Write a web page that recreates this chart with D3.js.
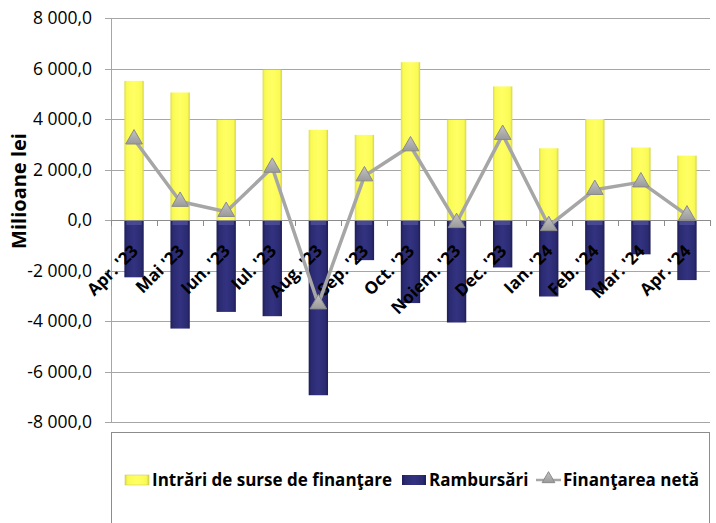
<!DOCTYPE html>
<html>
<head>
<meta charset="utf-8">
<script src="https://cdn.jsdelivr.net/npm/d3@7"></script>
<style>
	body { margin: 0; background: #ffffff; }
	svg text { font-family: "Open Sans", Lato, sans-serif; fill: #000; }
</style>
</head>
<body>
<svg id="vis" width="716" height="523"></svg>
<script>
// Values (milioane lei)
const months = ["Apr. '23", "Mai '23", "Iun. '23", "Iul. '23", "Aug. '23", "Sep. '23", "Oct. '23",
	"Noiem. '23", "Dec. '23", "Ian. '24", "Feb. '24", "Mar. '24", "Apr. '24"];
const intrari = [5510, 5050, 3970, 5950, 3570, 3370, 6250, 3970, 5290, 2840, 4000, 2870, 2550];
const rambursari = [-2270, -4300, -3640, -3810, -6940, -1590, -3290, -4060, -1880, -3030, -2780, -1360, -2380];
const netFinance = [3200, 730, 330, 2080, -3330, 1740, 2930, -110, 3380, -230, 1200, 1500, 190];
const yTicks = [-8000, -6000, -4000, -2000, 0, 2000, 4000, 6000, 8000];
const legendLabels = ["Intrări de surse de finanţare", "Rambursări", "Finanţarea netă"];

let drawChart = function() {
	const svg = d3.select("svg#vis");

	const plot = { left: 111, right: 710, top: 18, bottom: 422 };

	const x = d3.scaleBand()
		.domain(months)
		.range([plot.left, plot.right])
		.paddingInner(0.58)
		.paddingOuter(0.29);

	const y = d3.scaleLinear()
		.domain([-8000, 8000])
		.range([plot.bottom, plot.top]);

	// gradients for the bar / marker look
	const defs = svg.append("defs");
	let grad = function(id, stops) {
		const g = defs.append("linearGradient").attr("id", id)
			.attr("x1", 0).attr("x2", 1).attr("y1", 0).attr("y2", 0);
		stops.forEach(s => g.append("stop").attr("offset", s[0]).attr("stop-color", s[1]));
	};
	grad("gYellow", [[0, "#dcdc4a"], [0.12, "#fafa55"], [0.5, "#ffff63"], [0.88, "#fafa55"], [1, "#d4d448"]]);
	grad("gBlue", [[0, "#1e1e58"], [0.15, "#2b2b72"], [0.5, "#323280"], [0.85, "#2b2b72"], [1, "#1e1e58"]]);
	const gTri = defs.append("linearGradient").attr("id", "gTri")
		.attr("x1", 0).attr("x2", 0).attr("y1", 0).attr("y2", 1);
	gTri.append("stop").attr("offset", 0).attr("stop-color", "#c4c4c4");
	gTri.append("stop").attr("offset", 1).attr("stop-color", "#9a9a9a");

	// gridlines + left ticks
	svg.append("g")
		.selectAll("line.grid")
		.data(yTicks)
		.enter()
		.append("line")
		.attr("class", "grid")
		.attr("x1", plot.left - 6)
		.attr("x2", plot.right)
		.attr("y1", d => Math.round(y(d)) + 0.5)
		.attr("y2", d => Math.round(y(d)) + 0.5)
		.attr("stroke", "#a6a6a6")
		.attr("stroke-width", 1);

	// left axis line
	svg.append("line")
		.attr("x1", plot.left + 0.5).attr("x2", plot.left + 0.5)
		.attr("y1", plot.top).attr("y2", plot.bottom)
		.attr("stroke", "#a6a6a6");

	// y tick labels
	const fmt = d => d3.format(",.1f")(d).replace(/,/g, " ").replace(".", ",").replace("−", "-");
	svg.append("g")
		.selectAll("text")
		.data(yTicks)
		.enter()
		.append("text")
		.attr("x", 92)
		.attr("y", d => y(d) + 6)
		.attr("text-anchor", "end")
		.style("font-size", "17.5px")
		.text(fmt);

	// y axis title
	svg.append("text")
		.attr("transform", translate(26, 191) + " rotate(-90)")
		.attr("text-anchor", "middle")
		.style("font-size", "20px")
		.style("font-weight", "bold")
		.text("Milioane lei");

	// bars
	const bw = x.bandwidth();
	svg.append("g")
		.selectAll("rect.in")
		.data(intrari)
		.enter()
		.append("rect")
		.attr("class", "in")
		.attr("x", (d, i) => x(months[i]))
		.attr("y", d => y(d))
		.attr("width", bw)
		.attr("height", d => y(0) - y(d))
		.attr("fill", "url(#gYellow)");

	svg.append("g")
		.selectAll("rect.out")
		.data(rambursari)
		.enter()
		.append("rect")
		.attr("class", "out")
		.attr("x", (d, i) => x(months[i]))
		.attr("y", y(0))
		.attr("width", bw)
		.attr("height", d => y(d) - y(0))
		.attr("fill", "url(#gBlue)");

	// top highlight on blue bars
	svg.append("g")
		.selectAll("rect.hl")
		.data(rambursari)
		.enter()
		.append("rect")
		.attr("x", (d, i) => x(months[i]) + 2)
		.attr("y", y(0) + 1)
		.attr("width", bw - 4)
		.attr("height", 4)
		.attr("fill", "#5a5aa0")
		.attr("opacity", 0.6);

	// zero line and category ticks
	svg.append("line")
		.attr("x1", plot.left).attr("x2", plot.right)
		.attr("y1", Math.round(y(0)) + 0.5).attr("y2", Math.round(y(0)) + 0.5)
		.attr("stroke", "#8c8c8c");

	svg.append("g")
		.selectAll("line")
		.data(d3.range(months.length + 1))
		.enter()
		.append("line")
		.attr("x1", i => Math.round(plot.left + i * (plot.right - plot.left) / months.length) + 0.5)
		.attr("x2", i => Math.round(plot.left + i * (plot.right - plot.left) / months.length) + 0.5)
		.attr("y1", y(0))
		.attr("y2", y(0) + 6)
		.attr("stroke", "#8c8c8c");

	// category labels, rotated
	svg.append("g")
		.selectAll("text")
		.data(months)
		.enter()
		.append("text")
		.attr("transform", d => translate(x(d) + bw / 2 + 5, y(0) + 32) + " rotate(-45)")
		.attr("text-anchor", "end")
		.style("font-size", "17px")
		.style("font-weight", "bold")
		.text(d => d);

	// net financing line
	const line = d3.line()
		.x((d, i) => x(months[i]) + bw / 2)
		.y(d => y(d));

	svg.append("path")
		.datum(netFinance)
		.attr("d", line)
		.attr("fill", "none")
		.attr("stroke", "#a6a6a6")
		.attr("stroke-width", 3.5)
		.attr("stroke-linejoin", "round");

	const tri = d3.symbol().type(d3.symbolTriangle).size(120);
	svg.append("g")
		.selectAll("path")
		.data(netFinance)
		.enter()
		.append("path")
		.attr("d", tri)
		.attr("transform", (d, i) => translate(x(months[i]) + bw / 2, y(d)))
		.attr("fill", "url(#gTri)")
		.attr("stroke", "#8a8a8a")
		.attr("stroke-width", 1);

	// legend
	const lg = svg.append("g");
	lg.append("rect")
		.attr("x", plot.left + 0.5)
		.attr("y", 432.5)
		.attr("width", 598)
		.attr("height", 120)
		.attr("fill", "#fff")
		.attr("stroke", "#8c8c8c");

	const legendY = 480;
	const itemX = [125, 402, 536];

	lg.append("rect")
		.attr("x", itemX[0]).attr("y", legendY - 5)
		.attr("width", 24).attr("height", 10)
		.attr("fill", "url(#gYellow)")
		.attr("stroke", "#c8c84a").attr("stroke-width", 0.5);
	lg.append("rect")
		.attr("x", itemX[1]).attr("y", legendY - 5)
		.attr("width", 24).attr("height", 10)
		.attr("fill", "url(#gBlue)");
	lg.append("line")
		.attr("x1", itemX[2]).attr("x2", itemX[2] + 25)
		.attr("y1", legendY).attr("y2", legendY)
		.attr("stroke", "#a6a6a6").attr("stroke-width", 2.5);
	lg.append("path")
		.attr("d", d3.symbol().type(d3.symbolTriangle).size(70))
		.attr("transform", translate(itemX[2] + 12.5, legendY - 1))
		.attr("fill", "url(#gTri)")
		.attr("stroke", "#8a8a8a");

	lg.selectAll("text")
		.data(legendLabels)
		.enter()
		.append("text")
		.attr("x", (d, i) => itemX[i] + 27)
		.attr("y", legendY + 6)
		.style("font-size", "17px")
		.style("font-weight", "bold")
		.text(d => d);
};

//Helper functions
let translate = function(x, y) {
	return 'translate(' + x + ',' + y + ')';
};

drawChart();
</script>
</body>
</html>
